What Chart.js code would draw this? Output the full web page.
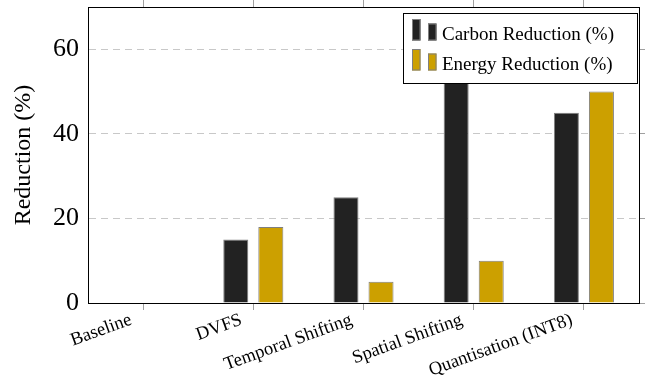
<!DOCTYPE html>
<html>
<head>
<meta charset="utf-8">
<script src="https://cdn.jsdelivr.net/npm/chart.js@4/dist/chart.umd.min.js"></script>
<style>
  html, body { margin: 0; padding: 0; background: #fff; }
  #wrap { width: 649px; height: 379px; }
</style>
</head>
<body>
<div id="wrap"><canvas id="c" width="649" height="379"></canvas></div>
<script>
const categories = ['Baseline', 'DVFS', 'Temporal Shifting', 'Spatial Shifting', 'Quantisation (INT8)'];
const carbonReduction = [0, 15, 25, 60, 45];
const energyReduction = [0, 18, 5, 10, 50];
const seriesLabels = ['Carbon Reduction (%)', 'Energy Reduction (%)'];
const yTickValues = [0, 20, 40, 60];
const yAxisTitle = 'Reduction (%)';

const SERIF = '"Liberation Serif", "Times New Roman", serif';
const carbonColor = '#222222';
const energyColor = '#cca000';
const barBorder = '#7f7f7f';

const boxLegend = {
  id: 'boxLegend',
  afterDraw(chart) {
    const ctx = chart.ctx;
    const bx = 403.5, by = 13.5, bw = 234, bh = 70;
    ctx.save();
    ctx.fillStyle = '#ffffff';
    ctx.fillRect(bx, by, bw, bh);
    ctx.strokeStyle = '#000000';
    ctx.lineWidth = 1;
    ctx.strokeRect(bx, by, bw, bh);
    chart.data.datasets.forEach((ds, i) => {
      const base = 40.5 + i * 30;
      ctx.fillStyle = ds.backgroundColor;
      ctx.strokeStyle = ds.borderColor;
      ctx.lineWidth = 1;
      ctx.fillRect(412, base - 21.5, 8.5, 21.5);
      ctx.strokeRect(412.5, base - 21, 7.5, 20.5);
      ctx.fillRect(428, base - 17, 8.5, 17);
      ctx.strokeRect(428.5, base - 16.5, 7.5, 16);
      ctx.fillStyle = '#000000';
      ctx.font = '19px ' + SERIF;
      ctx.textAlign = 'left';
      ctx.textBaseline = 'alphabetic';
      ctx.fillText(ds.label, 442, base - 1);
    });
    ctx.restore();
  }
};

function noPad(s) { s.paddingTop = 0; s.paddingBottom = 0; s.paddingLeft = 0; s.paddingRight = 0; }

new Chart(document.getElementById('c'), {
  type: 'bar',
  data: {
    labels: categories,
    datasets: [
      { label: seriesLabels[0], data: carbonReduction, backgroundColor: carbonColor, borderColor: barBorder, borderWidth: 1 },
      { label: seriesLabels[1], data: energyReduction, backgroundColor: energyColor, borderColor: barBorder, borderWidth: 1 }
    ]
  },
  options: {
    responsive: false,
    animation: false,
    devicePixelRatio: 1,
    layout: { padding: 0 },
    categoryPercentage: 0.636,
    barPercentage: 0.714,
    plugins: { legend: { display: false }, tooltip: { enabled: false } },
    scales: {
      x: {
        position: 'bottom',
        offset: true,
        grid: { offset: false, drawOnChartArea: false, drawTicks: true, tickLength: 7, tickColor: '#a0a0a0' },
        border: { color: '#000000', width: 1 },
        ticks: { minRotation: 20, maxRotation: 20, autoSkip: false, padding: -1, labelOffset: -12, color: '#000000', font: { family: SERIF, size: 18.5 } },
        afterFit: (s) => { s.height = 76; noPad(s); }
      },
      x2: {
        type: 'category',
        labels: categories,
        position: 'top',
        offset: true,
        grid: { offset: false, drawOnChartArea: false, drawTicks: true, tickLength: 7, tickColor: '#a0a0a0' },
        border: { color: '#000000', width: 1 },
        ticks: { display: false },
        afterFit: (s) => { s.height = 7; noPad(s); }
      },
      y: {
        position: 'left',
        min: 0, max: 70,
        afterBuildTicks: (s) => { s.ticks = yTickValues.map(v => ({ value: v })); },
        grid: {
          drawTicks: false,
          color: (c) => (c.tick && c.tick.value === 0) ? 'rgba(0,0,0,0)' : '#c8c8c8',
          lineWidth: 1
        },
        border: { color: '#000000', width: 1, dash: [7, 5] },
        ticks: { padding: 9, color: '#000000', font: { family: SERIF, size: 26 } },
        title: { display: true, text: yAxisTitle, color: '#000000', font: { family: SERIF, size: 24 }, padding: { top: 9, bottom: 0 } },
        afterFit: (s) => { s.width = 88; noPad(s); }
      },
      y2: {
        position: 'right',
        min: 0, max: 70,
        afterBuildTicks: (s) => { s.ticks = yTickValues.map(v => ({ value: v })); },
        grid: { drawOnChartArea: false, drawTicks: true, tickLength: 6, tickColor: '#a0a0a0' },
        border: { color: '#000000', width: 1 },
        ticks: { display: false },
        afterFit: (s) => { s.width = 10; noPad(s); }
      }
    }
  },
  plugins: [boxLegend]
});
</script>
</body>
</html>
